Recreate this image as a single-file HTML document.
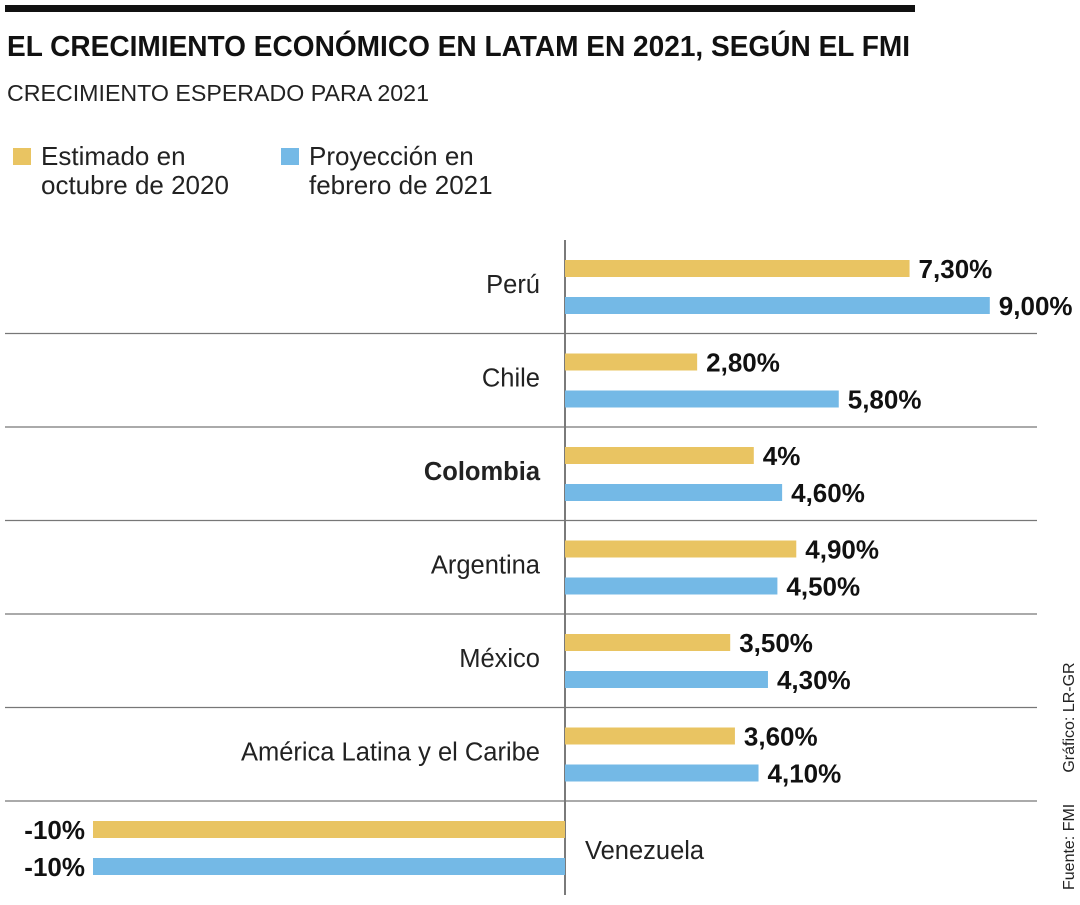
<!DOCTYPE html>
<html><head><meta charset="utf-8">
<style>
body{margin:0;background:#fff;width:1080px;height:900px;overflow:hidden;font-family:"Liberation Sans",sans-serif;color:#1a1a1a}
</style></head><body>
<svg width="1080" height="900" id="svg" font-family="Liberation Sans, sans-serif">
<rect x="5" y="5" width="910" height="7" fill="#111"/>
<text x="7" y="56" font-size="29" font-weight="bold" fill="#111" textLength="903" lengthAdjust="spacingAndGlyphs">EL CRECIMIENTO ECONÓMICO EN LATAM EN 2021, SEGÚN EL FMI</text>
<text x="7" y="101" font-size="23" fill="#222" textLength="422" lengthAdjust="spacingAndGlyphs">CRECIMIENTO ESPERADO PARA 2021</text>
<g>
<rect x="13" y="148" width="18" height="17" fill="#E9C462"/>
<text x="41" y="165" font-size="26" fill="#222">Estimado en</text>
<text x="41" y="194" font-size="26" fill="#222">octubre de 2020</text>
<rect x="281" y="148" width="18" height="17" fill="#74B9E6"/>
<text x="309" y="165" font-size="26" fill="#222">Proyección en</text>
<text x="309" y="194" font-size="26" fill="#222">febrero de 2021</text>
</g>
<g id="plot"></g>
<text transform="translate(1074,890) rotate(-90)" font-size="16" fill="#222">Fuente: FMI&#160;&#160;&#160;&#160;&#160;&#160;&#160;Gráfico: LR-GR</text>
</svg>
<script>
const categories=["Perú","Chile","Colombia","Argentina","México","América Latina y el Caribe","Venezuela"];
const octValues=[7.3,2.8,4,4.9,3.5,3.6,-10];
const febValues=[9.0,5.8,4.6,4.5,4.3,4.1,-10];
const octLabels=["7,30%","2,80%","4%","4,90%","3,50%","3,60%","-10%"];
const febLabels=["9,00%","5,80%","4,60%","4,50%","4,30%","4,10%","-10%"];
const NS="http://www.w3.org/2000/svg";
const g=document.getElementById('plot');
const x0=565, scale=47.2;
const xs=v=>x0+v*scale;
const rowTop=i=>240+i*93.5;
function mk(tag,attrs){const e=document.createElementNS(NS,tag);for(const k in attrs)e.setAttribute(k,attrs[k]);g.appendChild(e);return e;}
const axis=mk('line',{x1:x0,x2:x0,y1:240,y2:895,stroke:'#333','stroke-width':1.3});


categories.forEach((c,i)=>{
  const t=rowTop(i);
  if(i>0){const l=mk('line',{x1:5,x2:1037,y1:t,y2:t,stroke:'#777','stroke-width':1.3});
    
    }
  [[octValues[i],octLabels[i],'#E9C462',20,'oct'],[febValues[i],febLabels[i],'#74B9E6',57,'feb']].forEach(([v,lab,col,off,key])=>{
    const y=t+off;
    const xa=Math.min(xs(0),xs(v)), w=Math.abs(xs(v)-xs(0));
    const r=mk('rect',{x:xa,y:y,width:w,height:17,fill:col});
    
    
    const tx=mk('text',{y:y+18,'font-size':26,'font-weight':'bold',fill:'#111'});
    if(v>=0){tx.setAttribute('x',xs(v)+9);}else{tx.setAttribute('x',xa-8);tx.setAttribute('text-anchor','end');}
    tx.textContent=lab;
    
    
  });
  const ct=mk('text',{'font-size':25.5,fill:'#222'});
  if(octValues[i]<0){ct.setAttribute('x',585);ct.setAttribute('y',t+58);}
  else{ct.setAttribute('x',540);ct.setAttribute('y',t+53);ct.setAttribute('text-anchor','end');}
  if(c==='Colombia')ct.setAttribute('font-weight','bold');
  ct.textContent=c;
  
  
});
</script>
</body></html>
